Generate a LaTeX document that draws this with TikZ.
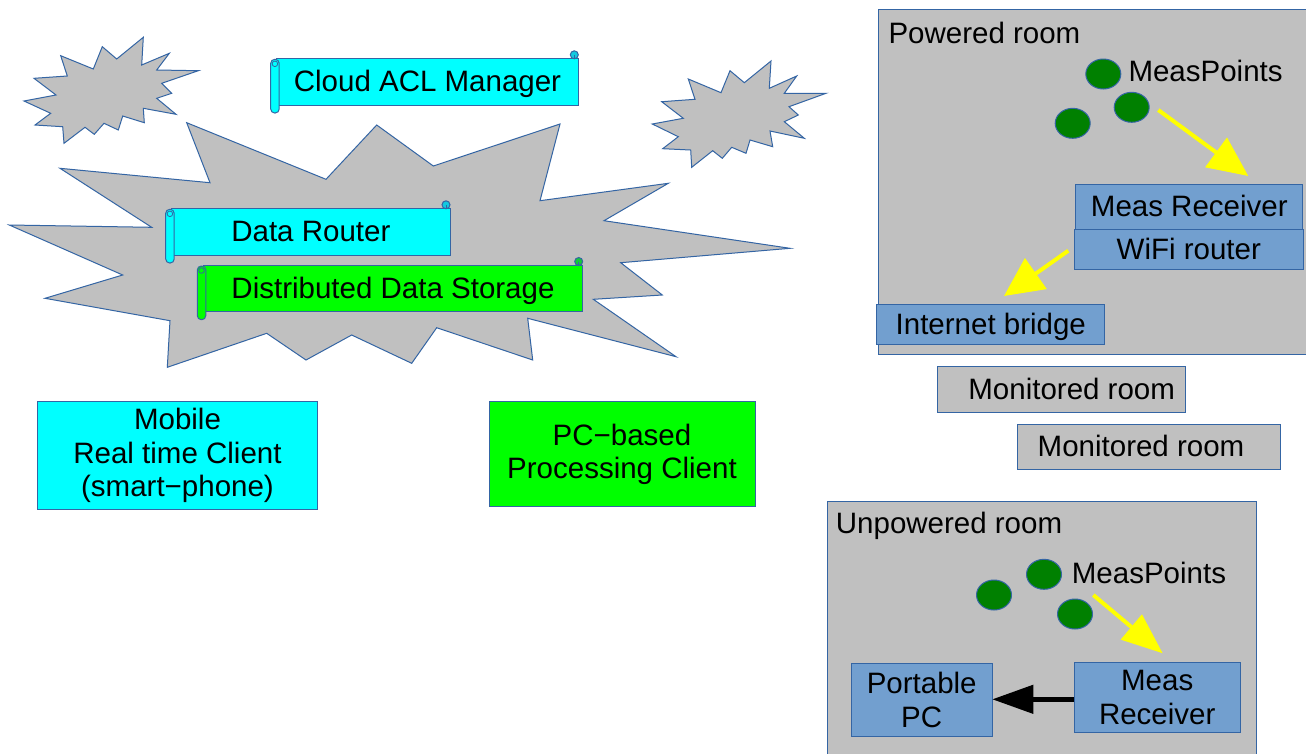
\documentclass[tikz,border=0pt]{standalone}
\usepackage{fontspec}
\setmainfont{Liberation Sans}
\usetikzlibrary{arrows.meta,shapes.geometric}
\definecolor{bggray}{HTML}{C0C0C0}
\definecolor{lblue}{HTML}{3465A4}
\definecolor{bblue}{HTML}{729FCF}
\definecolor{ccyan}{HTML}{00FFFF}
\definecolor{cgreen}{HTML}{00FF00}
\definecolor{dgreen}{HTML}{008000}
\definecolor{yel}{HTML}{FFFF00}
\newcommand\scrollbox[7]{%
  \node[box, fill=#6, one,
        minimum width={#4-#2}, minimum height={#5-#3}]
        (#1) at ({(#2+#4)/2},{(#3+#5)/2}) {#7};
  \draw[draw=lblue, line width=1pt, fill=#6, rounded corners=4pt]
        ({#2-6},{#3+1}) rectangle ({#2+2.5},{#5+8});
  \draw[draw=lblue, line width=0.8pt] ({#2-1.8},{#3+5.5}) circle (2.8);
  \draw[draw=lblue, line width=1pt, fill=#6!65!lblue] ({#4-4},{#3-3.5}) circle (4);
  \draw[draw=lblue, line width=0.8pt] ({#4-4},{#3-3.5}) -- ({#4-4},{#3});
}
\begin{document}
\begin{tikzpicture}[x=1pt,y=-1pt,
  star/.style={fill=bggray,draw=lblue,line width=1pt,line join=miter},
  fnt/.style={font=\fontsize{29.5}{33.5}\selectfont},
  one/.style={fnt,text height=22pt,text depth=2pt},
  box/.style={draw=lblue,line width=1pt,inner sep=0pt,rectangle},
  room/.style={box,fill=bggray},
  dev/.style={box,fill=bblue},
  title/.style={fnt,inner sep=0pt,anchor=base west},
  dot/.style={ellipse,draw=lblue,line width=1pt,fill=dgreen,inner sep=0pt,
              minimum width=35pt,minimum height=30pt},
  yarrow/.style={draw=yel,line width=4pt,-{Triangle[length=40pt,width=36pt]}},
  barrow/.style={draw=black,line width=4.5pt,-{Triangle[length=41pt,width=28pt]}}
]
\useasboundingbox (0,0) rectangle (1306,753);
\fill[white] (0,0) rectangle (1306,753);

% small star, top left
\draw[star] (143.3,37.3) -- (141.7,65) -- (169.3,53.3) -- (156.7,70) -- (198.3,70.7)
  -- (161.7,83.3) -- (171.7,93.3) -- (156.7,98.3) -- (176,114.3) -- (143.3,108.3)
  -- (144.3,122.7) -- (122.7,116) -- (118.3,130) -- (104,123.3) -- (94.3,134.3)
  -- (85,127.3) -- (64,143.3) -- (62.7,126.7) -- (35,125) -- (50.7,113.3)
  -- (24,101) -- (56,95) -- (34,78.3) -- (67.3,76) -- (60.7,55.7) -- (93.3,69)
  -- (102.3,46.7) -- (116.7,59) -- cycle;

% small star, right
\draw[star] (771,61) -- (769.3,88.3) -- (796.7,76) -- (784.3,93.3) -- (826,93.3)
  -- (789,106.7) -- (798.3,115) -- (784.3,121.7) -- (804.3,138.3) -- (770,131)
  -- (772.7,146.7) -- (750,140) -- (746,153.3) -- (731.7,147.3) -- (722.3,158.3)
  -- (712.7,150.7) -- (691.7,167.3) -- (690.7,150) -- (662.7,148.7) -- (678.3,136.7)
  -- (652.3,124) -- (683.3,118.3) -- (661.7,101.7) -- (695,99.3) -- (688.3,79)
  -- (721,92.7) -- (730,70.7) -- (744.3,82.7) -- cycle;

% big star (cloud)
\draw[star] (186.7,122.7) -- (326,179.3) -- (376.7,125) -- (433.3,166) -- (560,124)
  -- (540,200.7) -- (668.3,183.3) -- (604,220.7) -- (790,248.3) -- (620.7,262.7)
  -- (662.3,295) -- (593.3,299.3) -- (676,356.7) -- (527.7,318.3) -- (532.7,360)
  -- (436.7,327.7) -- (411.7,363.3) -- (351.7,335) -- (306,360) -- (266.7,333.3)
  -- (167.3,367.3) -- (170,320.7) -- (45,298.3) -- (122.7,275) -- (9.3,225)
  -- (151.7,227.3) -- (60,168.3) -- (210,182.7) -- cycle;

% scrolls
\scrollbox{acl}{276.7}{58.3}{578.3}{105}{ccyan}{Cloud ACL Manager}
\scrollbox{router}{171.7}{208.3}{450}{255}{ccyan}{Data Router}
\scrollbox{storage}{203.3}{265}{582.7}{311.7}{cgreen}{Distributed Data Storage}

% clients
\node[box,fill=ccyan,fnt,align=center,minimum width=280.4pt,minimum height=107.6pt]
  (mobile) at (177.5,455.5) {Mobile\\Real time Client\\(smart−phone)};
\node[box,fill=cgreen,fnt,align=center,minimum width=266pt,minimum height=105pt]
  (pcclient) at (622,454.2) {PC−based\\Processing Client};

% powered room
\node[room,minimum width=431.7pt,minimum height=345pt] (powered) at (1094.2,181.8) {};
\node[title] (poweredt) at (888.3,43.3) {Powered room};
\node[dot] (pd1) at (1103.3,74) {};
\node[dot] (pd2) at (1131.7,107.3) {};
\node[dot] (pd3) at (1072.7,123.3) {};
\node[title] (pmeas) at (1128.3,81) {MeasPoints};
\node[dev,one,minimum width=226.7pt,minimum height=45pt] (precv) at (1189.3,206.5) {Meas Receiver};
\node[dev,one,minimum width=229pt,minimum height=39.7pt] (wifi) at (1188.8,249.2) {WiFi router};
\node[dev,one,minimum width=228.3pt,minimum height=39.7pt] (bridge) at (990.8,324.8) {Internet bridge};
\coordinate (a1s) at (1158.3,110);
\coordinate (a1e) at (1248.3,176);
\draw[yarrow] (a1s) -- (a1e);
\coordinate (a2s) at (1068.3,250.7);
\coordinate (a2e) at (1004,296);
\draw[yarrow,-{Triangle[length=39pt,width=37pt]}] (a2s) -- (a2e);

% monitored rooms
\node[room,one,minimum width=248.4pt,minimum height=45.6pt] (mon1) at (1061.5,389.5)
  {\hspace*{20.4pt}Monitored room};
\node[room,one,minimum width=263.3pt,minimum height=44.7pt] (mon2) at (1149.3,446.7)
  {Monitored room\hspace*{16.6pt}};

% unpowered room
\node[room,minimum width=428.7pt,minimum height=258.3pt] (unpowered) at (1041.7,630.8) {};
\node[title] (unpoweredt) at (835.7,533.3) {Unpowered room};
\node[dot] (ud1) at (994,595) {};
\node[dot] (ud2) at (1044,574.3) {};
\node[dot] (ud3) at (1075,614) {};
\node[title] (umeas) at (1071.7,583.3) {MeasPoints};
\node[dev,fnt,align=center,minimum width=141.3pt,minimum height=73.4pt] (ppc) at (921.7,700) {Portable\\PC};
\node[dev,fnt,align=center,minimum width=165.7pt,minimum height=70pt] (urecv) at (1157.2,697.3) {Meas\\Receiver};
\coordinate (a3s) at (1093.3,595);
\coordinate (a3e) at (1162.7,653.3);
\draw[yarrow,-{Triangle[length=41pt,width=32pt]}] (a3s) -- (a3e);
\coordinate (a4s) at (1074.3,699.3);
\coordinate (a4e) at (992.3,699.3);
\draw[barrow] (a4s) -- (a4e);
\end{tikzpicture}
\end{document}
